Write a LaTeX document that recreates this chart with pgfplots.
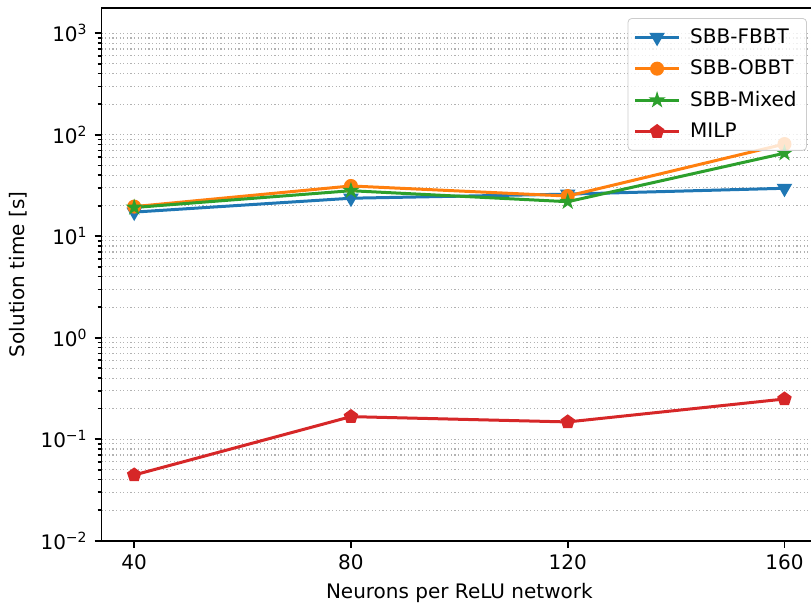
\documentclass[border=0pt]{standalone}
\usepackage{fontspec}
\setmainfont{DejaVu Sans}
\usepackage{pgfplots}
\pgfplotsset{compat=1.18}
\definecolor{c0}{HTML}{1F77B4}
\definecolor{c1}{HTML}{FF7F0E}
\definecolor{c2}{HTML}{2CA02C}
\definecolor{c3}{HTML}{D62728}
\pgfdeclareplotmark{fstar}{%
  \pgfpathmoveto{\pgfpointpolar{90}{\pgfplotmarksize}}%
  \pgfpathlineto{\pgfpointpolar{126}{0.382\pgfplotmarksize}}%
  \pgfpathlineto{\pgfpointpolar{162}{\pgfplotmarksize}}%
  \pgfpathlineto{\pgfpointpolar{198}{0.382\pgfplotmarksize}}%
  \pgfpathlineto{\pgfpointpolar{234}{\pgfplotmarksize}}%
  \pgfpathlineto{\pgfpointpolar{270}{0.382\pgfplotmarksize}}%
  \pgfpathlineto{\pgfpointpolar{306}{\pgfplotmarksize}}%
  \pgfpathlineto{\pgfpointpolar{342}{0.382\pgfplotmarksize}}%
  \pgfpathlineto{\pgfpointpolar{18}{\pgfplotmarksize}}%
  \pgfpathlineto{\pgfpointpolar{54}{0.382\pgfplotmarksize}}%
  \pgfpathclose
  \pgfusepathqfillstroke}
\begin{document}
\begin{tikzpicture}
\begin{axis}[
  name=ax,
  scale only axis,
  width=357.65pt, height=266.35pt,
  xmin=34, xmax=166,
  ymode=log, ymin=1e-2, ymax=1775,
  xtick={40,80,120,160},
  xticklabels={40,80,120,160},
  ytick={1e-2,1e-1,1,10,100,1000},
  yticklabels={10\textsuperscript{−2},10\textsuperscript{−1},10\textsuperscript{0},10\textsuperscript{1},10\textsuperscript{2},10\textsuperscript{3}},
  minor ytick={2e-2,3e-2,4e-2,5e-2,6e-2,7e-2,8e-2,9e-2,
               2e-1,3e-1,4e-1,5e-1,6e-1,7e-1,8e-1,9e-1,
               2,3,4,5,6,7,8,9,
               20,30,40,50,60,70,80,90,
               200,300,400,500,600,700,800,900},
  ymajorgrids, yminorgrids,
  major grid style={black!30, line width=0.6pt, dash pattern=on 0.6pt off 1.2pt},
  minor grid style={black!30, line width=0.6pt, dash pattern=on 0.6pt off 1.2pt},
  tick pos=left,
  tick align=outside,
  major tick length=3.5pt,
  minor tick length=2pt,
  every tick/.style={black, line width=0.8pt},
  axis line style={line width=0.8pt},
  tick label style={font=\fontsize{10}{12}\selectfont},
  label style={font=\fontsize{10}{12}\selectfont},
  xlabel={Neurons per ReLU network},
  ylabel={Solution time [s]},
  legend style={at={(1,1)}, anchor=north east, xshift=-5pt, yshift=-5pt,
    draw=black!20, rounded corners=2pt, fill=white, fill opacity=0.8, text opacity=1,
    font=\fontsize{10}{12}\selectfont, row sep=2.75pt, column sep=3pt, inner sep=3pt},
  legend cell align=left,
  legend image code/.code={\draw[mark repeat=2,mark phase=2,fill opacity=1,draw opacity=1] plot coordinates {(0cm,0cm) (0.38cm,0cm) (0.76cm,0cm)};},
]
\addplot[c0, line width=1.5pt, mark=triangle*, mark size=3.5pt, mark options={rotate=180, solid, line width=1pt, fill opacity=1}]
  coordinates {(40,17.3) (80,23.7) (120,26.0) (160,29.7)};
\addlegendentry{SBB-FBBT}
\addplot[c1, line width=1.5pt, mark=*, mark size=3pt, mark options={solid, line width=1pt, fill opacity=1}]
  coordinates {(40,19.6) (80,31.3) (120,24.9) (160,81)};
\addlegendentry{SBB-OBBT}
\addplot[c2, line width=1.5pt, mark=fstar, mark size=3.2pt, mark options={solid, line width=0.8pt, fill opacity=1}]
  coordinates {(40,19.2) (80,28.1) (120,21.9) (160,65.8)};
\addlegendentry{SBB-Mixed}
\addplot[c3, line width=1.5pt, mark=pentagon*, mark size=3.2pt, mark options={solid, line width=1pt, fill opacity=1}]
  coordinates {(40,0.0444) (80,0.167) (120,0.148) (160,0.249)};
\addlegendentry{MILP}
\end{axis}
\pgfresetboundingbox
\useasboundingbox ([xshift=-50.85pt,yshift=-32.65pt]ax.south west) rectangle ([xshift=354.65pt,yshift=4pt]ax.north west);
\end{tikzpicture}
\end{document}
